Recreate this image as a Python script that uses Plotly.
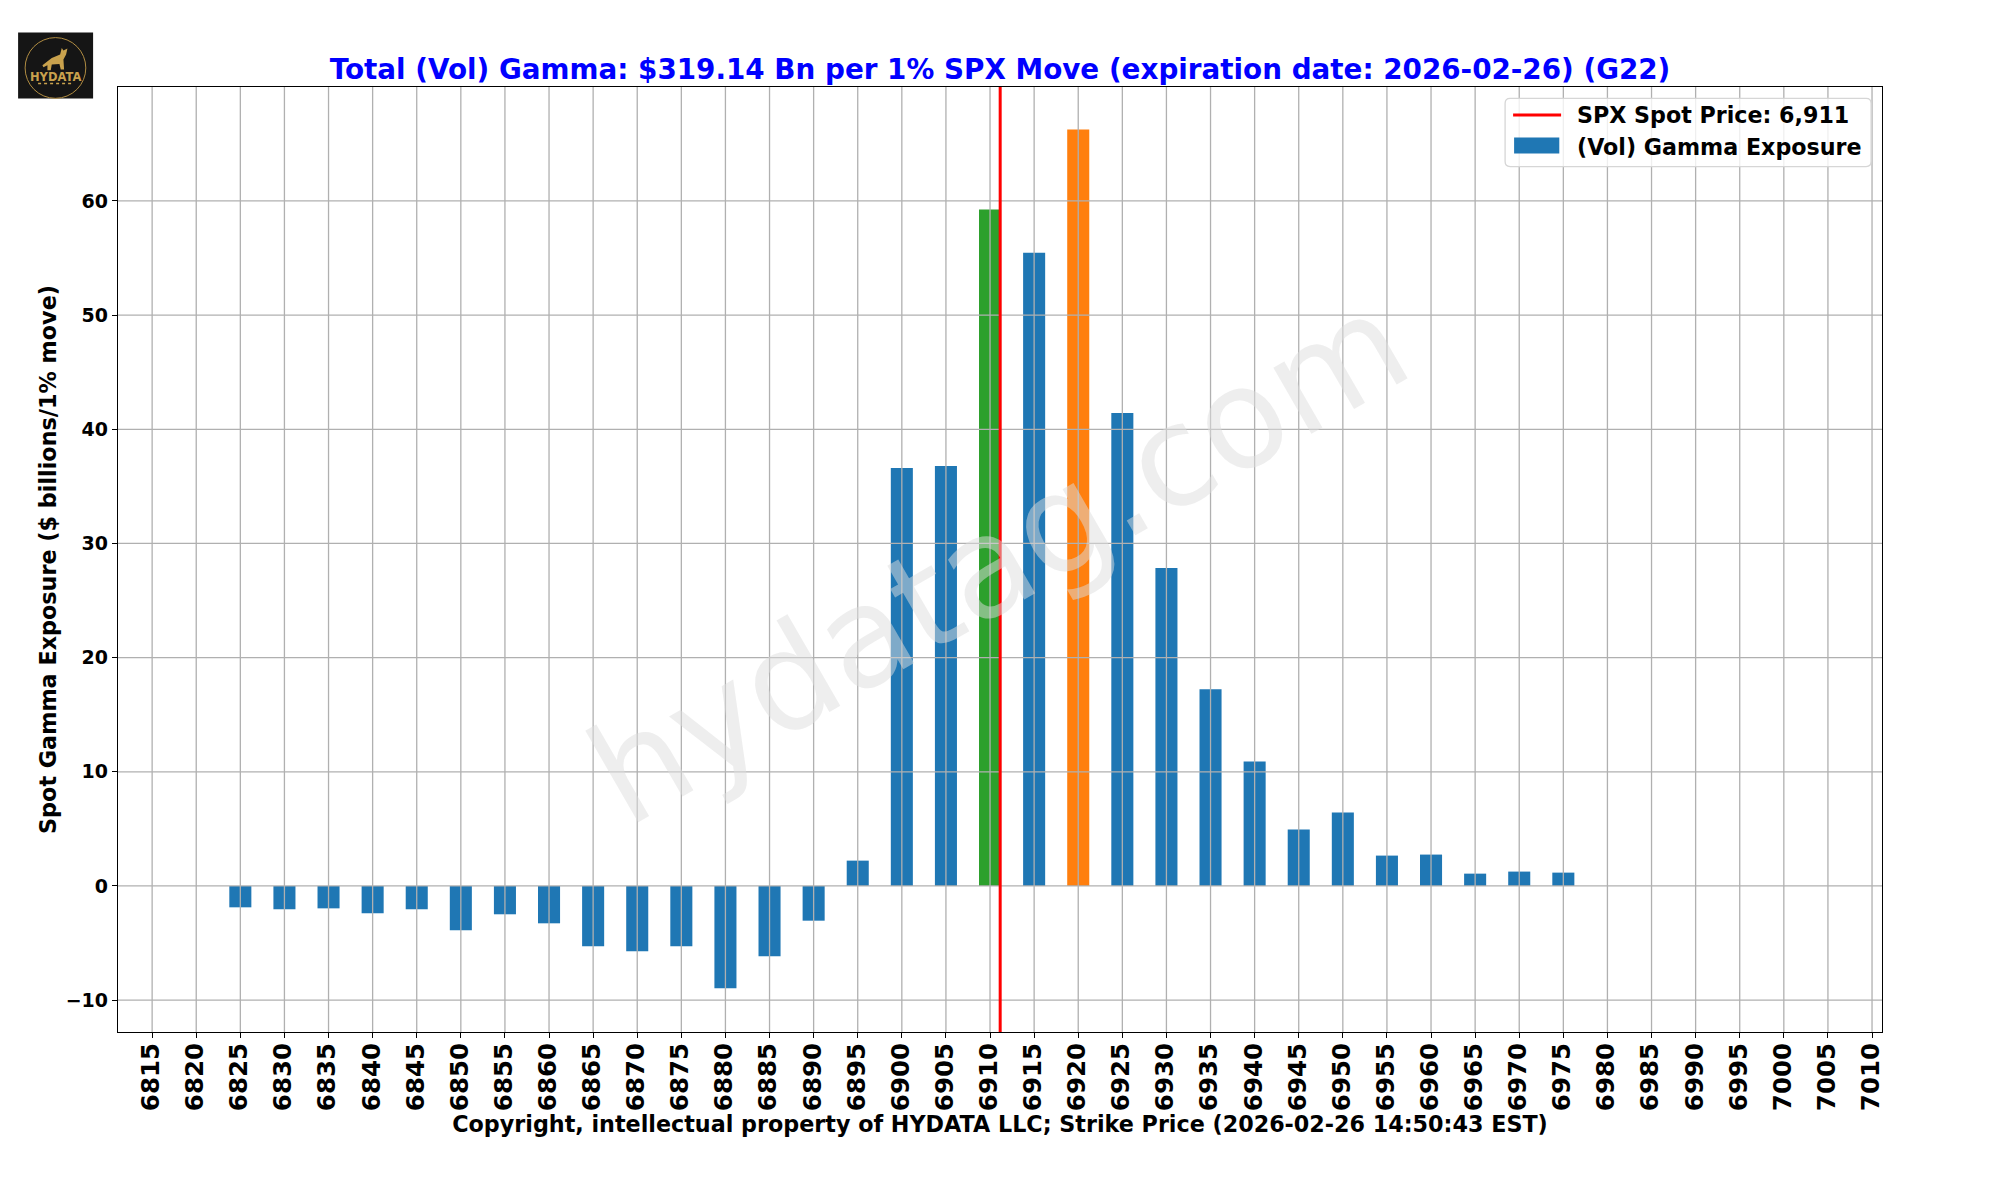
import plotly.graph_objects as go

# ---------- data ----------
strikes = list(range(6815, 7015, 5))
gamma = [None, None, -1.87, -2.04, -1.96, -2.39, -2.04, -3.88, -2.48, -3.27,
         -5.28, -5.72, -5.28, -8.96, -6.16, -3.04, 2.22, 36.6, 36.78, 59.24,
         55.47, 66.26, 41.43, 27.84, 17.22, 10.9, 4.94, 6.43, 2.66, 2.75,
         1.08, 1.26, 1.17, None, None, None, None, None, None, None]
y_ticks = [-10, 0, 10, 20, 30, 40, 50, 60]
spot = 6911.15
green_strike = 6910
orange_strike = 6920

title = "Total (Vol) Gamma: $319.14 Bn per 1% SPX Move (expiration date: 2026-02-26) (G22)"
x_title = "Copyright, intellectual property of HYDATA LLC; Strike Price (2026-02-26 14:50:43 EST)"
y_title = "Spot Gamma Exposure ($ billions/1% move)"
line_name = "SPX Spot Price: 6,911"
bar_name = "(Vol) Gamma Exposure"
watermark = "hydatag.com"

# ---------- layout constants (pixels of the 2000x1200 page; the page body adds an 8 px margin) ----------
OFF = 8
W, H = 2000 - 2 * OFF, 1200 - 2 * OFF
L, R, T, B = 117.9, 1881.9, 87.4, 1032.4
X_RANGE = [6811.13, 7011.13]
Y_RANGE = [-12.79, 69.98]
FONT = "DejaVu Sans"
BLUE, GREEN, ORANGE = "#1f77b4", "#2ca02c", "#ff7f0e"
GRID = "#b0b0b0"
GOLD = "#c9a24d"


def px(x):
    return (x - L) / (R - L)


def py(y):
    return (B - y) / (B - T)


colors = [GREEN if s == green_strike else ORANGE if s == orange_strike else BLUE for s in strikes]

fig = go.Figure()
fig.add_trace(go.Bar(x=strikes, y=gamma, width=2.5, name=bar_name, marker=dict(color=colors, line_width=0),
                     showlegend=False, hoverinfo="x+y"))

# gridlines sit above the bars in the reference
gx, gy = [], []
for s in strikes:
    gx += [s, s, None]
    gy += [Y_RANGE[0], Y_RANGE[1], None]
for v in y_ticks:
    gx += [X_RANGE[0], X_RANGE[1], None]
    gy += [v, v, None]
fig.add_trace(go.Scatter(x=gx, y=gy, mode="lines", line=dict(color=GRID, width=1.3),
                         showlegend=False, hoverinfo="skip"))
fig.add_trace(go.Scatter(x=[spot, spot], y=Y_RANGE, mode="lines", name=line_name,
                         line=dict(color="#ff0000", width=3), showlegend=False))

# logo
wolf = [(97, 122), (125, 100), (150, 90), (155, 70), (160, 78), (172, 72), (168, 90), (160, 105),
        (162, 135), (152, 135), (148, 118), (125, 120), (122, 137), (112, 137), (112, 122), (100, 128)]
wolf_path = "M " + " L ".join(f"{px(10 + a / 3):.5f},{py(25 + b / 3):.5f}" for a, b in wolf) + " Z"


def rounded_box(x0, y0, x1, y1, r):
    pts = [f"M {px(x0 + r):.5f},{py(y0):.5f}", f"L {px(x1 - r):.5f},{py(y0):.5f}",
           f"Q {px(x1):.5f},{py(y0):.5f} {px(x1):.5f},{py(y0 + r):.5f}", f"L {px(x1):.5f},{py(y1 - r):.5f}",
           f"Q {px(x1):.5f},{py(y1):.5f} {px(x1 - r):.5f},{py(y1):.5f}", f"L {px(x0 + r):.5f},{py(y1):.5f}",
           f"Q {px(x0):.5f},{py(y1):.5f} {px(x0):.5f},{py(y1 - r):.5f}", f"L {px(x0):.5f},{py(y0 + r):.5f}",
           f"Q {px(x0):.5f},{py(y0):.5f} {px(x0 + r):.5f},{py(y0):.5f}", "Z"]
    return " ".join(pts)


shapes = [
    dict(type="rect", xref="paper", yref="paper", x0=px(18), x1=px(93), y0=py(33), y1=py(99),
         fillcolor="#151515", line_width=0, layer="above"),
    dict(type="circle", xref="paper", yref="paper", x0=px(25), x1=px(85.7), y0=py(38), y1=py(98.7),
         line=dict(color="#b08c42", width=1), layer="above"),
    dict(type="path", xref="paper", yref="paper", path=wolf_path, fillcolor=GOLD, line_width=0, layer="above"),
    dict(type="line", xref="paper", yref="paper", x0=px(38), x1=px(72), y0=py(84), y1=py(84),
         line=dict(color=GOLD, width=1.5, dash="dot"), layer="above"),
    # legend box and keys
    dict(type="path", xref="paper", yref="paper", path=rounded_box(1505, 98.7, 1871, 167, 5),
         fillcolor="rgba(255,255,255,0.8)", line=dict(color="#d6d6d6", width=1.3), layer="above"),
    dict(type="line", xref="paper", yref="paper", x0=px(1513), x1=px(1561), y0=py(115.3), y1=py(115.3),
         line=dict(color="#ff0000", width=3), layer="above"),
    dict(type="rect", xref="paper", yref="paper", x0=px(1514), x1=px(1559.2), y0=py(138), y1=py(154),
         fillcolor=BLUE, line_width=0, layer="above"),
]
annotations = [
    dict(text=watermark, xref="paper", yref="paper", x=px(998), y=py(559), showarrow=False, textangle=-30,
         font=dict(family=FONT, size=139, color="rgba(221,221,221,0.5)", weight="normal"),
         xanchor="center", yanchor="middle"),
    dict(text="HYDATA", xref="paper", yref="paper", x=px(55), y=py(77), showarrow=False,
         font=dict(family=FONT, size=11.5, color=GOLD), xanchor="center", yanchor="middle"),
    dict(text=line_name, xref="paper", yref="paper", x=px(1575), y=py(115.3), showarrow=False,
         font=dict(family=FONT, size=22.2, weight="bold"), xanchor="left", yanchor="middle"),
    dict(text=bar_name, xref="paper", yref="paper", x=px(1575), y=py(147), showarrow=False,
         font=dict(family=FONT, size=22.2, weight="bold"), xanchor="left", yanchor="middle"),
]

fig.update_layout(
    width=W, height=H,
    margin=dict(l=L - OFF, r=W - (R - OFF), t=T - OFF, b=H - (B - OFF), pad=0, autoexpand=False),
    paper_bgcolor="white", plot_bgcolor="white", bargap=0.5, showlegend=False,
    font=dict(family=FONT, color="black", weight="bold"),
    title=dict(text=title, xref="container", yref="container", x=(1000 - OFF) / W, xanchor="center",
               y=1 - (69 - OFF) / H, yanchor="middle", font=dict(family=FONT, size=27.8, color="#0000ff", weight="bold")),
    xaxis=dict(range=X_RANGE, tickmode="array", tickvals=strikes, ticktext=[str(s) for s in strikes],
               tickangle=-90, tickfont=dict(family=FONT, size=24.5, weight="bold"), showgrid=False, zeroline=False,
               showline=True, mirror=True, linecolor="black", linewidth=1.3, ticks="outside", ticklen=5,
               tickwidth=1.3, tickcolor="black", ticklabelstandoff=-5, ticklabelshift=-1,
               title=dict(text=x_title, standoff=2, font=dict(family=FONT, size=22.25, weight="bold"))),
    yaxis=dict(range=Y_RANGE, tickmode="array", tickvals=y_ticks, tickfont=dict(family=FONT, size=19, weight="bold"),
               showgrid=False, zeroline=False, showline=True, mirror=True, linecolor="black", linewidth=1.3,
               ticks="outside", ticklen=5, tickwidth=1.3, tickcolor="black",
               title=dict(text=y_title, standoff=2, font=dict(family=FONT, size=22.3, weight="bold"))),
    shapes=shapes, annotations=annotations,
)
fig.write_html("out.html")
